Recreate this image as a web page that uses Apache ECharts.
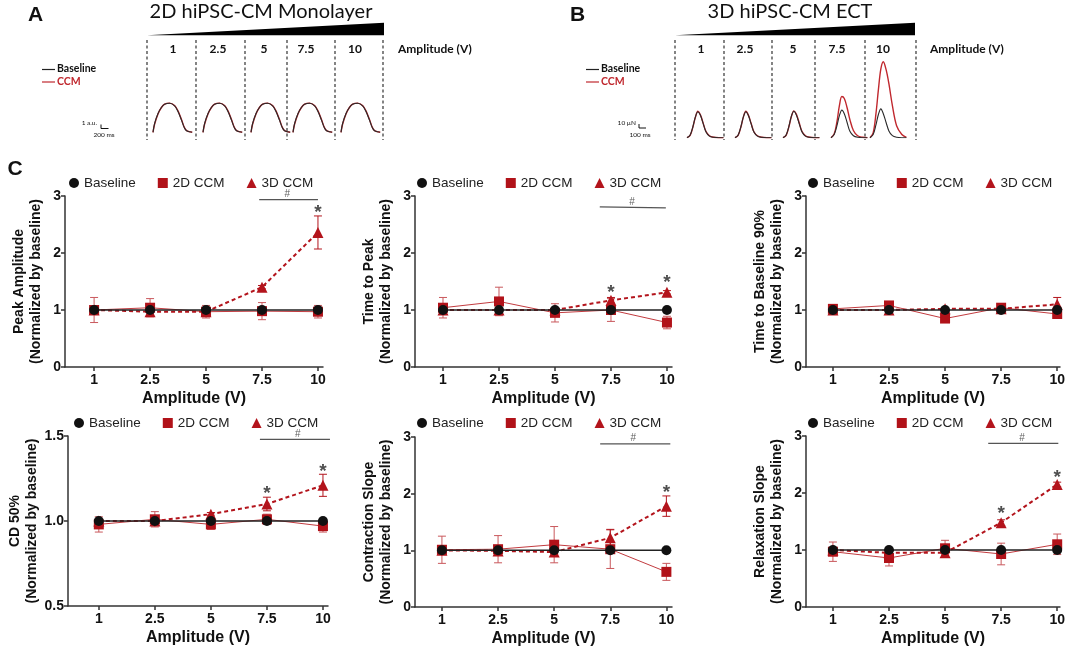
<!DOCTYPE html>
<html>
<head>
<meta charset="utf-8">
<script src="https://cdn.jsdelivr.net/npm/echarts@6/dist/echarts.min.js"></script>
<style>
html, body { margin: 0; padding: 0; background: #fff; }
#chart { width: 1072px; height: 650px; }
</style>
</head>
<body>
<div id="chart"></div>
<script>
// x categories (stimulation amplitude)
var amplitudeLabels = ['1', '2.5', '5', '7.5', '10'];
var legendNames = ['Baseline', '2D CCM', '3D CCM'];
var baselineNorm = [1, 1, 1, 1, 1];

// traces, panel A (ms, a.u.)
var traceATime = [0, 40, 125, 210, 290, 415, 540, 625, 710, 790, 850, 980];
var traceABaseline = [0, 2.2, 4.7, 6.2, 7.0, 7.25, 6.6, 5.2, 3.1, 1.0, 0.3, 0];
var traceACcm = [0, 2.0, 4.6, 6.2, 7.05, 7.3, 6.7, 5.35, 3.25, 1.1, 0.35, 0];

// traces, panel B (ms, uN), one row per amplitude
var traceBTime = [0, 45, 85, 120, 155, 190, 230, 270, 320, 380, 455, 520];
var traceBBaseline = [
    [0, 7, 28, 52, 65, 57, 36, 15, 4, 1, 0, 0],
    [0, 7, 28, 52, 65, 56, 35, 14, 4, 1, 0, 0],
    [0, 7, 29, 54, 66, 57, 36, 15, 4, 1, 0, 0],
    [0, 8, 30, 55, 69, 60, 38, 16, 5, 1, 0, 0],
    [0, 8, 32, 58, 72, 60, 38, 17, 5, 1, 0, 0]
];
var traceBCcm = [
    [0, 6, 27, 51, 66, 58, 37, 16, 5, 1, 0, 0],
    [0, 6, 27, 52, 66, 57, 36, 15, 5, 1, 0, 0],
    [0, 6, 28, 53, 67, 59, 38, 16, 5, 1, 0, 0],
    [0, 9, 40, 80, 103, 98, 75, 45, 18, 5, 1, 0],
    [0, 12, 60, 120, 172, 190, 170, 135, 80, 30, 8, 1]
];

// panel C values (mean, error)
var peak2D = [1.0, 1.04, 0.97, 0.98, 0.97];
var peak2DErr = [0.22, 0.16, 0.11, 0.15, 0.11];
var peak3D = [1.0, 0.97, 0.97, 1.40, 2.36];
var peak3DErr = [0.02, 0.02, 0.02, 0.03, 0.29];
var peakSig = [[2.95, 2.935], [4.0, 2.935]];
var peakHash = [[3.45, 2.935]];
var peakStars = [[4, 2.79]];

var ttp2D = [1.04, 1.15, 0.95, 1.0, 0.78];
var ttp2DErr = [0.18, 0.25, 0.16, 0.2, 0.11];
var ttp3D = [1.0, 1.0, 1.0, 1.17, 1.31];
var ttp3DErr = [0.02, 0.03, 0.03, 0.05, 0.03];
var ttpSig = [[2.8, 2.81], [3.98, 2.79]];
var ttpHash = [[3.375, 2.80]];
var ttpStars = [[3, 1.39], [4, 1.57]];

var ttb2D = [1.02, 1.08, 0.85, 1.04, 0.93];
var ttb2DErr = [0.03, 0.03, 0.03, 0.04, 0.04];
var ttb3D = [1.0, 1.0, 1.02, 1.02, 1.1];
var ttb3DErr = [0.02, 0.02, 0.02, 0.02, 0.12];

var cd2D = [0.98, 1.01, 0.98, 1.01, 0.97];
var cd2DErr = [0.045, 0.045, 0.03, 0.03, 0.035];
var cd3D = [1.0, 1.0, 1.04, 1.10, 1.21];
var cd3DErr = [0.01, 0.01, 0.01, 0.04, 0.065];
var cdSig = [[2.875, 1.48], [4.125, 1.48]];
var cdHash = [[3.55, 1.48]];
var cdStars = [[3, 1.19], [4, 1.32]];

var cs2D = [1.01, 1.02, 1.1, 1.02, 0.62];
var cs2DErr = [0.24, 0.24, 0.32, 0.34, 0.15];
var cs3D = [1.0, 0.99, 0.97, 1.22, 1.78];
var cs3DErr = [0.03, 0.03, 0.03, 0.15, 0.18];
var csSig = [[2.82, 2.88], [4.07, 2.88]];
var csHash = [[3.41, 2.88]];
var csStars = [[4, 2.1]];

var rs2D = [0.97, 0.86, 1.03, 0.93, 1.1];
var rs2DErr = [0.17, 0.14, 0.14, 0.19, 0.18];
var rs3D = [1.0, 0.95, 0.95, 1.48, 2.15];
var rs3DErr = [0.02, 0.02, 0.02, 0.05, 0.04];
var rsSig = [[2.77, 2.87], [4.02, 2.87]];
var rsHash = [[3.375, 2.87]];
var rsStars = [[3, 1.72], [4, 2.35]];

var yTitles = ['Peak Amplitude', 'Time to Peak', 'Time to Baseline 90%', 'CD 50%', 'Contraction Slope', 'Relaxation Slope'];

var panels = [
    {d2: peak2D, e2: peak2DErr, d3: peak3D, e3: peak3DErr, sig: peakSig, hash: peakHash, stars: peakStars},
    {d2: ttp2D, e2: ttp2DErr, d3: ttp3D, e3: ttp3DErr, sig: ttpSig, hash: ttpHash, stars: ttpStars},
    {d2: ttb2D, e2: ttb2DErr, d3: ttb3D, e3: ttb3DErr, sig: [], hash: [], stars: []},
    {d2: cd2D, e2: cd2DErr, d3: cd3D, e3: cd3DErr, sig: cdSig, hash: cdHash, stars: cdStars},
    {d2: cs2D, e2: cs2DErr, d3: cs3D, e3: cs3DErr, sig: csSig, hash: csHash, stars: csStars},
    {d2: rs2D, e2: rs2DErr, d3: rs3D, e3: rs3DErr, sig: rsSig, hash: rsHash, stars: rsStars}
];

// layout (pixels)
var layoutC = [
    {left: 65, top: 196, width: 258, height: 171, xMin: -0.52, xMax: 4.09, yMin: 0, yMax: 3, yStep: 1, nameGap: 20, legLeft: 69, legTop: 176},
    {left: 415, top: 196, width: 257, height: 171, xMin: -0.5, xMax: 4.09, yMin: 0, yMax: 3, yStep: 1, nameGap: 20, legLeft: 417, legTop: 176},
    {left: 806, top: 196, width: 254, height: 171, xMin: -0.48, xMax: 4.05, yMin: 0, yMax: 3, yStep: 1, nameGap: 20, legLeft: 808, legTop: 176},
    {left: 68, top: 436, width: 260, height: 170, xMin: -0.55, xMax: 4.09, yMin: 0.5, yMax: 1.5, yStep: 0.5, nameGap: 25, legLeft: 74, legTop: 416},
    {left: 415, top: 437, width: 257, height: 170, xMin: -0.48, xMax: 4.1, yMin: 0, yMax: 3, yStep: 1, nameGap: 20, legLeft: 417, legTop: 416},
    {left: 806, top: 436, width: 254, height: 171, xMin: -0.48, xMax: 4.05, yMin: 0, yMax: 3, yStep: 1, nameGap: 20, legLeft: 808, legTop: 416}
];
var traceLeftA = [153, 203, 251, 293, 341];
var traceLeftB = [687, 735, 783, 831, 870];
var dashXA = [147, 196, 245, 287, 335, 383];
var dashXB = [675, 724, 772, 815, 865, 916];
var colCenterA = [173, 218, 264, 306, 355];
var colCenterB = [701, 745, 793, 837, 883];

var RED = '#b3141c';
var RED_LIGHT = '#c9585c';
var RED_TRACE = '#c0282e';
var AXIS = '#333';
var SANS = 'Liberation Sans, Arial, sans-serif';
var CAL = 'Lato, Liberation Sans, sans-serif';

var chart = echarts.init(document.getElementById('chart'));

function pts(vals) {
    return vals.map(function (v, k) { return [k, v]; });
}
function errData(vals, errs) {
    return vals.map(function (v, k) { return [k, v - errs[k], v + errs[k]]; });
}
function errorBar(color) {
    return function (params, api) {
        var x = api.value(0);
        var top = api.coord([x, api.value(2)]);
        var bot = api.coord([x, api.value(1)]);
        var w = 4;
        var st = {stroke: color, lineWidth: 1};
        return {
            type: 'group',
            children: [
                {type: 'line', shape: {x1: top[0], y1: top[1], x2: bot[0], y2: bot[1]}, style: st},
                {type: 'line', shape: {x1: top[0] - w, y1: top[1], x2: top[0] + w, y2: top[1]}, style: st},
                {type: 'line', shape: {x1: bot[0] - w, y1: bot[1], x2: bot[0] + w, y2: bot[1]}, style: st}
            ]
        };
    };
}

var grids = [], xAxes = [], yAxes = [], series = [], legends = [];

// panel A traces
traceLeftA.forEach(function (left, k) {
    grids.push({left: left, top: 92.3, width: 40, height: 40});
    xAxes.push({gridIndex: k, type: 'value', min: 0, max: 1000, show: false});
    yAxes.push({gridIndex: k, type: 'value', min: 0, max: 10, show: false});
    series.push({
        type: 'line', name: 'CCM trace A', xAxisIndex: k, yAxisIndex: k, symbol: 'none', smooth: 0.35,
        lineStyle: {color: RED_TRACE, width: 1.4}, z: 2, silent: true,
        data: traceATime.map(function (t, j) { return [t, traceACcm[j]]; })
    });
    series.push({
        type: 'line', name: 'Baseline trace A', xAxisIndex: k, yAxisIndex: k, symbol: 'none', smooth: 0.35,
        lineStyle: {color: '#2a2a2a', width: 1.1}, z: 3, silent: true,
        data: traceATime.map(function (t, j) { return [t, traceABaseline[j]]; })
    });
});

// panel B traces
traceLeftB.forEach(function (left, k) {
    var g = 5 + k;
    grids.push({left: left, top: 57.7, width: 36.4, height: 80});
    xAxes.push({gridIndex: g, type: 'value', min: 0, max: 520, show: false});
    yAxes.push({gridIndex: g, type: 'value', min: 0, max: 200, show: false});
    series.push({
        type: 'line', name: 'CCM trace B', xAxisIndex: g, yAxisIndex: g, symbol: 'none', smooth: 0.35,
        lineStyle: {color: RED_TRACE, width: 1.4}, z: 2, silent: true,
        data: traceBTime.map(function (t, j) { return [t, traceBCcm[k][j]]; })
    });
    series.push({
        type: 'line', name: 'Baseline trace B', xAxisIndex: g, yAxisIndex: g, symbol: 'none', smooth: 0.35,
        lineStyle: {color: '#2a2a2a', width: 1.1}, z: 3, silent: true,
        data: traceBTime.map(function (t, j) { return [t, traceBBaseline[k][j]]; })
    });
});

// panel C
panels.forEach(function (p, i) {
    var L = layoutC[i];
    var g = 10 + i;
    grids.push({left: L.left, top: L.top, width: L.width, height: L.height});
    xAxes.push({
        gridIndex: g, type: 'value', min: L.xMin, max: L.xMax,
        axisLine: {show: true, onZero: false, lineStyle: {color: AXIS, width: 1.5}},
        axisTick: {show: true, length: 4, customValues: [0, 1, 2, 3, 4], lineStyle: {color: AXIS, width: 1.5}},
        axisLabel: {
            customValues: [0, 1, 2, 3, 4], margin: 6,
            formatter: function (v) { return amplitudeLabels[Math.round(v)]; },
            fontFamily: SANS, fontWeight: 'bold', fontSize: 14, color: '#111'
        },
        splitLine: {show: false},
        name: 'Amplitude (V)', nameLocation: 'middle', nameGap: 24,
        nameTextStyle: {fontFamily: SANS, fontWeight: 'bold', fontSize: 16, color: '#111'}
    });
    yAxes.push({
        gridIndex: g, type: 'value', min: L.yMin, max: L.yMax, interval: L.yStep,
        axisLine: {show: true, onZero: false, lineStyle: {color: AXIS, width: 1.5}},
        axisTick: {show: true, length: 4, lineStyle: {color: AXIS, width: 1.5}},
        axisLabel: {
            margin: 4, fontFamily: SANS, fontWeight: 'bold', fontSize: 14, color: '#111',
            formatter: function (v) { return L.yStep < 1 ? v.toFixed(1) : String(v); }
        },
        splitLine: {show: false},
        name: yTitles[i] + '\n(Normalized by baseline)', nameLocation: 'middle', nameGap: L.nameGap, nameRotate: 90,
        nameTextStyle: {fontFamily: SANS, fontWeight: 'bold', fontSize: 14, lineHeight: 17, color: '#111'}
    });
    legends.push({
        left: L.legLeft, top: L.legTop, padding: 0, itemWidth: 10, itemHeight: 10, itemGap: 22,
        selectedMode: false,
        textStyle: {fontFamily: SANS, fontSize: 13.5, color: '#222'},
        data: [
            {name: legendNames[0], icon: 'circle'},
            {name: legendNames[1], icon: 'rect'},
            {name: legendNames[2], icon: 'triangle'}
        ]
    });
    series.push({
        type: 'custom', name: '2D err', xAxisIndex: g, yAxisIndex: g, silent: true, z: 2,
        renderItem: errorBar(RED_LIGHT), encode: {x: 0, y: [1, 2]}, data: errData(p.d2, p.e2)
    });
    series.push({
        type: 'custom', name: '3D err', xAxisIndex: g, yAxisIndex: g, silent: true, z: 2,
        renderItem: errorBar(RED), encode: {x: 0, y: [1, 2]}, data: errData(p.d3, p.e3)
    });
    series.push({
        type: 'line', name: legendNames[1], xAxisIndex: g, yAxisIndex: g, z: 3,
        symbol: 'rect', symbolSize: 10,
        lineStyle: {color: '#c23b3f', width: 1}, itemStyle: {color: '#b11219'},
        data: pts(p.d2)
    });
    series.push({
        type: 'line', name: legendNames[2], xAxisIndex: g, yAxisIndex: g, z: 4,
        symbol: 'triangle', symbolSize: 11,
        lineStyle: {color: RED, width: 2, type: [4, 3]}, itemStyle: {color: RED},
        data: pts(p.d3)
    });
    series.push({
        type: 'line', name: legendNames[0], xAxisIndex: g, yAxisIndex: g, z: 5,
        symbol: 'circle', symbolSize: 10,
        lineStyle: {color: '#222', width: 1.5}, itemStyle: {color: '#111'},
        data: pts(baselineNorm)
    });
    if (p.sig.length) {
        series.push({
            type: 'line', name: 'sig', xAxisIndex: g, yAxisIndex: g, symbol: 'none', clip: false, silent: true,
            lineStyle: {color: '#555', width: 1.3}, data: p.sig
        });
        series.push({
            type: 'scatter', name: 'hash', xAxisIndex: g, yAxisIndex: g, symbolSize: 1, silent: true,
            itemStyle: {color: 'rgba(0,0,0,0)'},
            label: {show: true, position: 'top', distance: 0, formatter: '#', fontFamily: SANS, fontSize: 10, color: '#333'},
            data: p.hash
        });
        series.push({
            type: 'scatter', name: 'star', xAxisIndex: g, yAxisIndex: g, symbolSize: 1, silent: true,
            itemStyle: {color: 'rgba(0,0,0,0)'},
            label: {show: true, position: 'inside', offset: [0, 5], formatter: '*', fontFamily: SANS, fontWeight: 'bold', fontSize: 19, color: '#222'},
            data: p.stars
        });
    }
});

// decoration of panels A and B
function txt(x, y, s, size, weight, color, align, family) {
    return {
        type: 'text', x: x, y: y, silent: true,
        style: {
            text: s, fontSize: size, fontWeight: weight, fill: color, fontFamily: family || SANS,
            textAlign: align || 'center', textVerticalAlign: 'middle', align: align || 'center', verticalAlign: 'middle'
        }
    };
}
function seg(x1, y1, x2, y2, color, width, dash) {
    return {
        type: 'line', silent: true, shape: {x1: x1, y1: y1, x2: x2, y2: y2},
        style: {stroke: color, lineWidth: width, lineDash: dash || null}
    };
}

var graphics = [];
graphics.push(txt(35.5, 15.5, 'A', 21, 'bold', '#111'));
graphics.push(txt(577.5, 15.5, 'B', 21, 'bold', '#111'));
graphics.push(txt(15, 169.5, 'C', 21, 'bold', '#111'));
graphics.push(txt(261, 12, '2D hiPSC-CM Monolayer', 20, 'normal', '#111', 'center', CAL));
graphics.push(txt(790, 12, '3D hiPSC-CM ECT', 20, 'normal', '#111', 'center', CAL));
graphics.push({type: 'polygon', silent: true, shape: {points: [[147, 35.3], [384, 22.7], [384, 35.3]]}, style: {fill: '#000'}});
graphics.push({type: 'polygon', silent: true, shape: {points: [[675, 35.3], [915, 22.7], [915, 35.3]]}, style: {fill: '#000'}});
dashXA.forEach(function (x) { graphics.push(seg(x, 40, x, 140, '#333', 1.2, [3, 2.5])); });
dashXB.forEach(function (x) { graphics.push(seg(x, 40, x, 140, '#333', 1.2, [3, 2.5])); });
amplitudeLabels.forEach(function (s, k) {
    graphics.push(txt(colCenterA[k], 49, s, 12, 'bold', '#111', 'center', CAL));
    graphics.push(txt(colCenterB[k], 49, s, 12, 'bold', '#111', 'center', CAL));
});
graphics.push(txt(398, 49, 'Amplitude (V)', 12, 'bold', '#111', 'left', CAL));
graphics.push(txt(930, 49, 'Amplitude (V)', 12, 'bold', '#111', 'left', CAL));

// trace legends
[[42, 57], [586, 601]].forEach(function (pos) {
    graphics.push(seg(pos[0], 69.5, pos[0] + 13, 69.5, '#222', 1.2));
    graphics.push(txt(pos[1], 69, 'Baseline', 10.5, 'bold', '#111', 'left', CAL));
    graphics.push(seg(pos[0], 82, pos[0] + 13, 82, RED_TRACE, 1.2));
    graphics.push(txt(pos[1], 81.5, 'CCM', 10.5, 'bold', RED_TRACE, 'left', CAL));
});

// scale bars
graphics.push(txt(97, 123, '1 a.u.', 6.5, 'normal', '#111', 'right', CAL));
graphics.push(seg(101, 124.5, 101, 128.5, '#111', 1));
graphics.push(seg(101, 128.5, 108.5, 128.5, '#111', 1));
graphics.push(txt(104, 135, '200 ms', 6.5, 'normal', '#111', 'center', CAL));
graphics.push(txt(636, 123, '10 \u00b5N', 6.5, 'normal', '#111', 'right', CAL));
graphics.push(seg(639, 124, 639, 128, '#111', 1));
graphics.push(seg(639, 128, 646, 128, '#111', 1));
graphics.push(txt(640, 134.5, '100 ms', 6.5, 'normal', '#111', 'center', CAL));

var option = {
    animation: false,
    backgroundColor: '#fff',
    textStyle: {fontFamily: SANS},
    grid: grids,
    xAxis: xAxes,
    yAxis: yAxes,
    legend: legends,
    series: series,
    graphic: graphics
};
chart.setOption(option);
</script>
</body>
</html>
